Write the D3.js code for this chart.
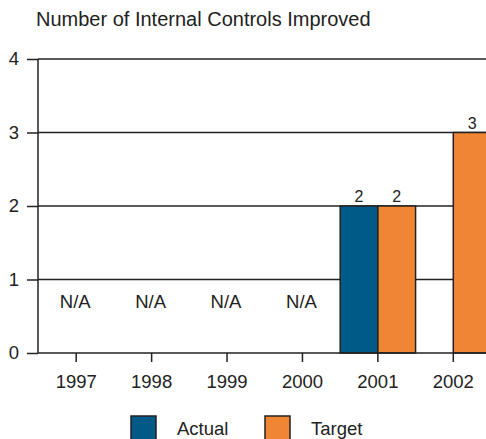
<!DOCTYPE html>
<html><head><meta charset="utf-8">
<script src="https://cdn.jsdelivr.net/npm/d3@7/dist/d3.min.js"></script>
<style>body{margin:0;background:#fff}svg{display:block;font-family:"Liberation Sans",Arial,sans-serif}</style>
</head><body>
<svg id="c" width="486" height="439"></svg>
<script>
const years = ["1997","1998","1999","2000","2001","2002"];
const actual = [null,null,null,null,2,null];
const target = [null,null,null,null,2,3];
const naYears = ["1997","1998","1999","2000"];
const yTicks = [0,1,2,3,4];
const title = "Number of Internal Controls Improved";
const seriesNames = ["Actual","Target"];
const colors = ["#005a87","#f08533"];

const svg = d3.select("#c");
const x = d3.scaleBand().domain(years).range([38.5, 491]);
const y = d3.scaleLinear().domain([0,4]).range([353, 59]);

svg.append("text").attr("x",36).attr("y",26).attr("font-size",20).attr("fill","#222").text(title);

// gridlines
svg.append("g").selectAll("line").data(yTicks.slice(1)).join("line")
  .attr("x1",38).attr("x2",486).attr("y1",d=>y(d)).attr("y2",d=>y(d))
  .attr("stroke","#222").attr("stroke-width",1.5);

// bars
const sub = d3.scaleBand().domain(seriesNames).range([0, x.bandwidth()]);
const series = [actual, target];
series.forEach((vals,si)=>{
  const g = svg.append("g");
  const data = years.map((yr,i)=>({yr, v: vals[i]})).filter(d=>d.v!=null);
  g.selectAll("rect").data(data).join("rect")
    .attr("x",d=>x(d.yr)+sub(seriesNames[si]))
    .attr("y",d=>y(d.v)).attr("width",sub.bandwidth()).attr("height",d=>y(0)-y(d.v))
    .attr("fill",colors[si]).attr("stroke","#222").attr("stroke-width",1.5);
  g.selectAll("text").data(data).join("text")
    .attr("x",d=>x(d.yr)+sub(seriesNames[si])+sub.bandwidth()/2)
    .attr("y",d=>y(d.v)-4).attr("text-anchor","middle").attr("font-size",16).attr("fill","#222")
    .text(d=>d.v);
});

// N/A labels
svg.append("g").selectAll("text").data(naYears).join("text")
  .attr("x",d=>x(d)+x.bandwidth()/2-1).attr("y",308).attr("text-anchor","middle")
  .attr("font-size",18.5).attr("fill","#222").text("N/A");

// y axis
const ya = svg.append("g").attr("transform","translate(38,0)")
  .call(d3.axisLeft(y).tickValues(yTicks).tickFormat(d3.format("d")).tickSize(11).tickPadding(8));
ya.select(".domain").attr("stroke","#222").attr("stroke-width",1.5).attr("d","M0,59V353");
ya.selectAll(".tick line").attr("stroke","#222").attr("stroke-width",1.5);
ya.selectAll(".tick text").attr("font-size",18.5).attr("fill","#222").attr("font-family","Liberation Sans, Arial, sans-serif");

// x axis
const xa = svg.append("g").attr("transform","translate(0,353)")
  .call(d3.axisBottom(x).tickSize(9).tickPadding(13));
xa.select(".domain").attr("stroke","#222").attr("stroke-width",1.5).attr("d","M38,0H486");
xa.selectAll(".tick line").attr("stroke","#222").attr("stroke-width",1.5);
xa.selectAll(".tick text").attr("font-size",18.5).attr("fill","#222").attr("font-family","Liberation Sans, Arial, sans-serif");

// legend
const lg = svg.append("g");
const lx = [131, 265];
seriesNames.forEach((n,i)=>{
  lg.append("rect").attr("x",lx[i]).attr("y",416).attr("width",25).attr("height",24)
    .attr("fill",colors[i]).attr("stroke","#222").attr("stroke-width",1.5);
  lg.append("text").attr("x",lx[i]+46).attr("y",435).attr("font-size",18.5).attr("fill","#222").text(n);
});
</script>
</body></html>
